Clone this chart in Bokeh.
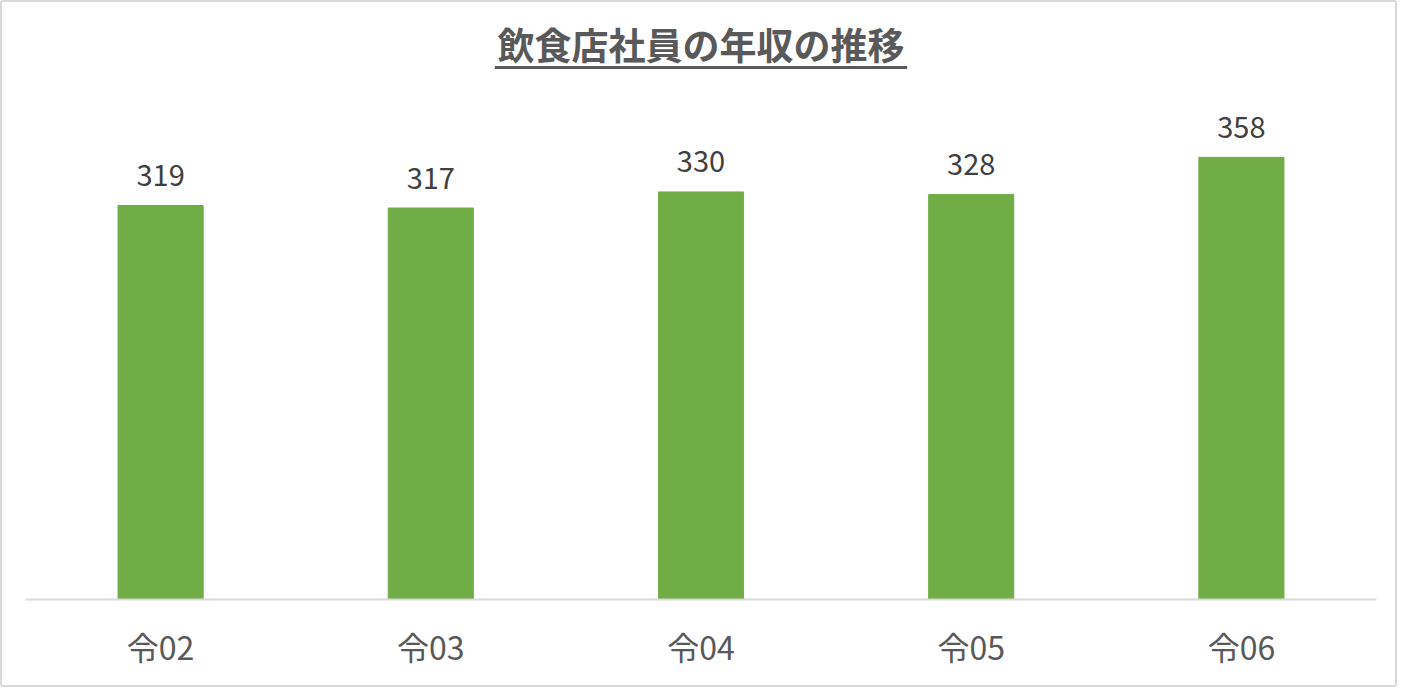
from bokeh.plotting import figure
from bokeh.models import FactorRange, Range1d
from bokeh.core.properties import value
from bokeh.embed import file_html
from bokeh.resources import INLINE

# Data
years = ["令02", "令03", "令04", "令05", "令06"]
incomes = [319, 317, 330, 328, 358]
labels = [str(v) for v in incomes]
chart_title = "飲食店社員の年収の推移"

BAR_COLOR = "#70AD47"
FONT = "Noto Sans CJK JP"

PX_PER_UNIT = 494 / 400  # plot area: 0..400 over 494 px
BASE_Y = 597  # baseline position inside the canvas

p = figure(x_range=FactorRange(*years), y_range=Range1d(0, BASE_Y / PX_PER_UNIT),
           width=1397, height=687, output_backend="svg", toolbar_location=None,
           min_border_left=23, min_border_right=23, min_border_top=0, min_border_bottom=90)
p.styles = {"border": "2px solid #d9d9d9", "border-radius": "3px"}

p.vbar(x=years, top=incomes, width=0.315, color=BAR_COLOR)

# value labels above bars
p.text(x=years, y=incomes, text=labels, text_align="center", text_baseline="alphabetic",
       y_offset=-30, text_font=value(FONT), text_font_size="29px", text_color="#404040")

# title with underline, drawn inside the frame area
title_y = (BASE_Y - 41) / PX_PER_UNIT
line_y = (BASE_Y - 65) / PX_PER_UNIT
p.text(x=[("令04", 0)], y=[title_y], text=[chart_title], text_align="center",
       text_baseline="middle", text_font=value(FONT), text_font_size="37px",
       text_font_style="bold", text_color="#595959")
p.segment(x0=[("令04", -0.763)], y0=[line_y], x1=[("令04", 0.763)], y1=[line_y],
          line_color="#595959", line_width=3)

p.yaxis.visible = False
p.xgrid.grid_line_color = None
p.ygrid.grid_line_color = None
p.outline_line_color = None

p.xaxis.axis_line_color = "#d9d9d9"
p.xaxis.axis_line_width = 2
p.xaxis.major_tick_line_color = None
p.xaxis.minor_tick_line_color = None
p.xaxis.major_label_standoff = 17
p.xaxis.major_label_text_font = FONT
p.xaxis.major_label_text_font_size = "32px"
p.xaxis.major_label_text_color = "#595959"

open("out.html", "w").write(file_html(p, INLINE))
